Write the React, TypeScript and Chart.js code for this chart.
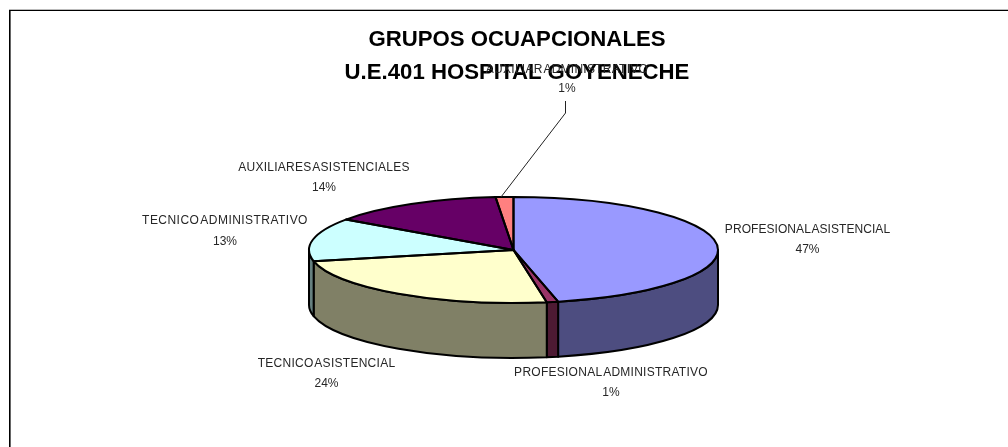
import React, { useEffect, useRef } from "react";
import { Chart, registerables } from "chart.js";

Chart.register(...registerables);

const categories = [
  "PROFESIONAL ASISTENCIAL",
  "PROFESIONAL ADMINISTRATIVO",
  "TECNICO ASISTENCIAL",
  "TECNICO ADMINISTRATIVO",
  "AUXILIARES ASISTENCIALES",
  "AUXILIAR ADMINISTRATIVO",
];
const shares = [46.5, 0.9, 24.2, 13.1, 13.9, 1.4];
const titleLines = ["GRUPOS OCUAPCIONALES", "U.E.401 HOSPITAL GOYENECHE"];

const topColors = ["#9999FF", "#993366", "#FFFFCC", "#CCFFFF", "#660066", "#FF8080"];
const sideColors = ["#4D4D80", "#4D1A33", "#808066", "#668080", "#330033", "#804040"];
const labelCenters = [
  [807.5, 230],
  [611, 373],
  [326.5, 364],
  [225, 221],
  [324, 168],
  [567, 70],
];
const labelPitch = [20, 20, 20, 21, 20, 19];
const labelTracking = [0.06, 0.26, 0.27, 0.46, 0.26, 0.26];

const PIE_RADIUS = 204.5;
const PIE_RY = 53;
const PIE_DEPTH = 55;
const SHIFT_X = -3.5;
const LABEL_FONT = '12px "Liberation Sans"';

const pie3d = {
  id: "pie3d",
  beforeDraw(chart: any) {
    const { ctx, width, height } = chart;
    ctx.save();
    ctx.fillStyle = "#fff";
    ctx.fillRect(0, 0, width, height);
    ctx.fillStyle = "#bbb";
    ctx.fillRect(9, 9, width - 9, 1);
    ctx.fillStyle = "#666";
    ctx.fillRect(10, 11, 1, height - 11);
    ctx.fillStyle = "#000";
    ctx.fillRect(9, 10, width - 9, 1);
    ctx.fillRect(9, 10, 1, height - 10);
    ctx.restore();
  },
  beforeDatasetsDraw(chart: any) {
    const { ctx } = chart;
    const arcs = chart.getDatasetMeta(0).data;
    const cx = arcs[0].x + SHIFT_X;
    const cy = arcs[0].y;
    ctx.save();
    ctx.lineWidth = 2;
    ctx.strokeStyle = "#000";
    ctx.lineJoin = "round";
    arcs.forEach((arc: any, i: number) => {
      const a = Math.max(arc.startAngle, 0);
      const b = Math.min(arc.endAngle, Math.PI);
      if (a >= b) return;
      ctx.beginPath();
      ctx.ellipse(cx, cy, PIE_RADIUS, PIE_RY, 0, a, b);
      ctx.ellipse(cx, cy + PIE_DEPTH, PIE_RADIUS, PIE_RY, 0, b, a, true);
      ctx.closePath();
      ctx.fillStyle = sideColors[i];
      ctx.fill();
      ctx.stroke();
    });
    ctx.restore();
    ctx.save();
    ctx.translate(cx, cy);
    ctx.scale(1, PIE_RY / PIE_RADIUS);
    ctx.translate(-arcs[0].x, -arcs[0].y);
  },
  afterDatasetsDraw(chart: any) {
    const { ctx } = chart;
    ctx.restore();
    const arcs = chart.getDatasetMeta(0).data;
    const cx = arcs[0].x + SHIFT_X;
    const cy = arcs[0].y;
    ctx.save();
    ctx.lineWidth = 2;
    ctx.strokeStyle = "#000";
    ctx.lineJoin = "round";
    arcs.forEach((arc: any) => {
      ctx.beginPath();
      ctx.moveTo(cx, cy);
      ctx.ellipse(cx, cy, PIE_RADIUS, PIE_RY, 0, arc.startAngle, arc.endAngle);
      ctx.closePath();
      ctx.stroke();
    });
    // leader line of the smallest slice
    ctx.lineWidth = 1;
    ctx.strokeStyle = "#222";
    ctx.beginPath();
    ctx.moveTo(565.5, 101);
    ctx.lineTo(565.5, 113);
    ctx.lineTo(501, 197);
    ctx.stroke();
    // data labels
    ctx.font = LABEL_FONT;
    ctx.fillStyle = "#262626";
    ctx.textAlign = "center";
    ctx.textBaseline = "middle";
    (ctx as any).wordSpacing = "-2.8px";
    categories.forEach((name, i) => {
      const [x, y] = labelCenters[i];
      (ctx as any).letterSpacing = `${labelTracking[i]}px`;
      ctx.fillText(name, x, y);
      (ctx as any).letterSpacing = "0px";
      ctx.fillText(`${Math.round(shares[i])}%`, x, y + labelPitch[i]);
    });
    ctx.restore();
  },
};

export default function App() {
  const ref = useRef<HTMLCanvasElement>(null);
  useEffect(() => {
    const chart = new Chart(ref.current!, {
      type: "pie",
      data: {
        labels: categories,
        datasets: [
          {
            data: shares,
            backgroundColor: topColors,
            borderWidth: 0,
            clip: false,
          } as any,
        ],
      },
      options: {
        responsive: false,
        animation: false,
        radius: PIE_RADIUS,
        layout: { padding: { left: 26, right: 0, top: 0, bottom: 44 } },
        plugins: {
          legend: { display: false },
          tooltip: { enabled: false },
          title: {
            display: true,
            text: titleLines,
            color: "#000",
            font: { family: '"Liberation Sans"', size: 22.2, weight: "bold", lineHeight: 1.46 },
            padding: { top: 24, bottom: 8 },
          },
        },
      } as any,
      plugins: [pie3d],
    });
    return () => chart.destroy();
  }, []);
  return (
    <canvas
      ref={ref}
      width={1008}
      height={447}
      style={{ position: "absolute", left: 0, top: 0, display: "block" }}
    />
  );
}
